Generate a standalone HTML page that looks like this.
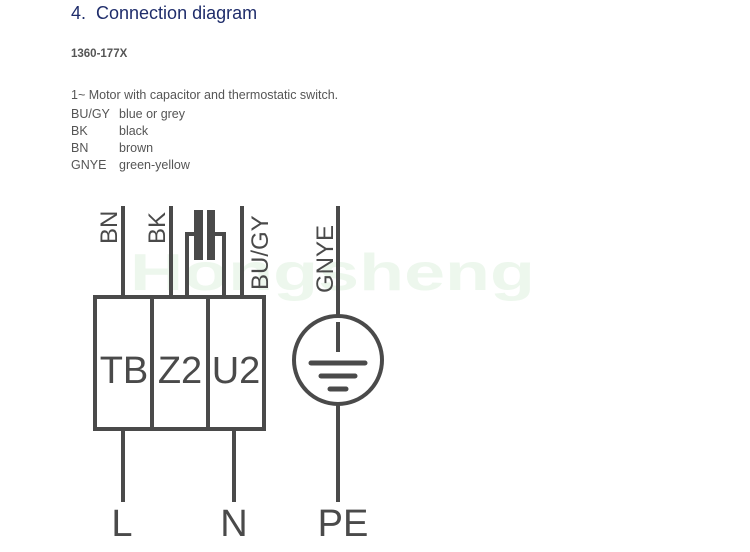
<!DOCTYPE html>
<html><head><style>
body{margin:0;background:#fff;width:750px;height:552px;overflow:hidden;font-family:"Liberation Sans",sans-serif;position:relative}
.t{position:absolute;left:71px;color:#555;font-size:12.5px;white-space:pre}
.t span{position:absolute;left:48px}
</style></head><body>
<div style="position:absolute;left:71px;top:3px;font-size:18px;color:#1f2d6b">4.&nbsp; Connection diagram</div>
<div class="t" style="top:48px;font-weight:bold;font-size:11.5px">1360-177X</div>
<div class="t" style="top:88px">1~ Motor with capacitor and thermostatic switch.</div>
<div class="t" style="top:107px">BU/GY<span>blue or grey</span></div>
<div class="t" style="top:124px">BK<span>black</span></div>
<div class="t" style="top:141px">BN<span>brown</span></div>
<div class="t" style="top:158px">GNYE<span>green-yellow</span></div>
<svg width="750" height="552" style="position:absolute;left:0;top:0">
<text x="130" y="290" font-size="52" font-weight="bold" fill="#edf7ed" font-family="Liberation Sans" textLength="405" lengthAdjust="spacingAndGlyphs">Hongsheng</text>
<g stroke="#4a4a4a" stroke-width="4" fill="none">
<rect x="95" y="297" width="169" height="132"/>
<line x1="152" y1="297" x2="152" y2="429"/>
<line x1="208" y1="297" x2="208" y2="429"/>
<line x1="123" y1="206" x2="123" y2="297"/>
<line x1="171" y1="206" x2="171" y2="297"/>
<line x1="242" y1="206" x2="242" y2="297"/>
<polyline points="187,297 187,234 196,234"/>
<polyline points="224,297 224,234 213,234"/>
<line x1="123" y1="429" x2="123" y2="502"/>
<line x1="234" y1="429" x2="234" y2="502"/>
<line x1="338" y1="206" x2="338" y2="315"/>
<line x1="338" y1="405" x2="338" y2="502"/>
<circle cx="338" cy="360" r="44"/>
<line x1="338" y1="322" x2="338" y2="352"/>
</g>
<rect x="194" y="210" width="9" height="50" fill="#4a4a4a"/>
<rect x="207" y="210" width="8" height="50" fill="#4a4a4a"/>
<g stroke="#4a4a4a" stroke-linecap="round">
<line x1="311" y1="363" x2="365" y2="363" stroke-width="5"/>
<line x1="321" y1="376" x2="355" y2="376" stroke-width="5"/>
<line x1="330" y1="389" x2="346" y2="389" stroke-width="5"/>
</g>
<g fill="#4a4a4a" font-family="Liberation Sans" font-size="24">
<text transform="translate(117,244) rotate(-90)">BN</text>
<text transform="translate(165,244) rotate(-90)">BK</text>
<text transform="translate(268,290) rotate(-90)">BU/GY</text>
<text transform="translate(333,293) rotate(-90)">GNYE</text>
</g>
<g fill="#4a4a4a" font-family="Liberation Sans" font-size="38" text-anchor="middle">
<text x="124" y="383">TB</text>
<text x="180" y="383">Z2</text>
<text x="236" y="383">U2</text>
<text x="122" y="536">L</text>
<text x="234" y="536">N</text>
<text x="343" y="536">PE</text>
</g>
</svg>
</body></html>
